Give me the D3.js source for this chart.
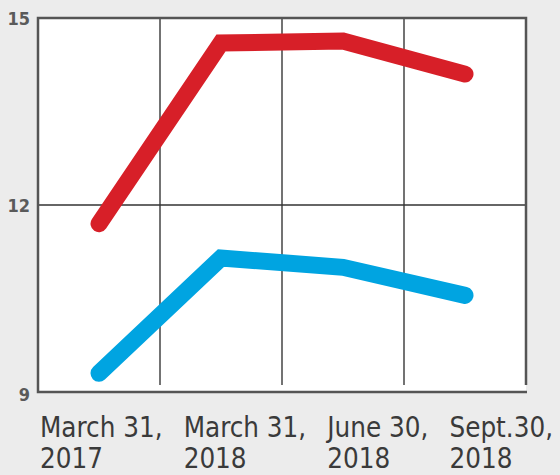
<!DOCTYPE html>
<meta charset="utf-8">
<style>
  body { margin: 0; background: #ececec; }
  svg { display: block; }
  .tick-label { font-family: "DejaVu Sans Condensed", "DejaVu Sans", sans-serif; font-size: 18px; font-weight: bold; fill: #5a5a5a; }
  .cat-label { font-family: "DejaVu Sans Condensed", "DejaVu Sans", sans-serif; font-size: 27.5px; fill: #3a3a3a; }
</style>
<body>
<div id="chart"></div>
<script src="https://d3js.org/d3.v7.min.js"></script>
<script>
// data
const categories = [["March 31,", "2017"], ["March 31,", "2018"], ["June 30,", "2018"], ["Sept.30,", "2018"]];
const redValues = [11.7, 14.6, 14.63, 14.1];
const blueValues = [9.3, 11.15, 11.0, 10.55];
const yTicks = [9, 12, 15];

const width = 560, height = 475;
const margin = {top: 18, right: 34, bottom: 83, left: 38};

const svg = d3.select("#chart").append("svg")
    .attr("width", width)
    .attr("height", height);

const x = d3.scaleBand()
    .domain(d3.range(categories.length))
    .range([margin.left, width - margin.right]);

const y = d3.scaleLinear()
    .domain([9, 15])
    .range([height - margin.bottom, margin.top]);

// plot background
svg.append("rect")
    .attr("x", x.range()[0])
    .attr("y", y(15))
    .attr("width", x.range()[1] - x.range()[0])
    .attr("height", y(9) - y(15))
    .attr("fill", "#fff");

// vertical gridlines at band boundaries
svg.append("g")
    .selectAll("line")
    .data(d3.range(1, categories.length))
    .join("line")
      .attr("x1", d => x(d)).attr("x2", d => x(d))
      .attr("y1", y(15)).attr("y2", y(9) - 7)
      .attr("stroke", "#444")
      .attr("stroke-width", 1.5);

// horizontal gridline(s)
svg.append("g")
    .selectAll("line")
    .data(yTicks.filter(d => d !== 9 && d !== 15))
    .join("line")
      .attr("x1", x.range()[0]).attr("x2", x.range()[1])
      .attr("y1", d => y(d)).attr("y2", d => y(d))
      .attr("stroke", "#333")
      .attr("stroke-width", 1.5);

// frame
svg.append("path")
    .attr("d", `M${x.range()[1]},${y(9) - 7}V${y(15)}H${x.range()[0]}V${y(9)}H${x.range()[1] + 1}`)
    .attr("fill", "none")
    .attr("stroke", "#555")
    .attr("stroke-width", 2.5);

// y tick labels
svg.append("g")
    .selectAll("text")
    .data(yTicks)
    .join("text")
      .attr("class", "tick-label")
      .attr("x", margin.left - 8)
      .attr("y", d => y(d) + (d === 9 ? 3 : 1))
      .attr("dy", "0.35em")
      .attr("text-anchor", "end")
      .text(d => d);

// lines
const line = d3.line()
    .x((d, i) => x(i) + x.bandwidth() / 2)
    .y(d => y(d));

[[redValues, "#d71f28"], [blueValues, "#00a4e1"]].forEach(([vals, color]) => {
  svg.append("path")
      .datum(vals)
      .attr("d", line)
      .attr("fill", "none")
      .attr("stroke", color)
      .attr("stroke-width", 17)
      .attr("stroke-linecap", "round")
      .attr("stroke-linejoin", "miter");
});

// category labels, laid out left to right across the bottom
const labels = svg.append("g")
    .selectAll("text")
    .data(categories)
    .join("text")
      .attr("class", "cat-label");

labels.selectAll("tspan")
    .data(d => d)
    .join("tspan")
      .attr("y", (d, i) => i === 0 ? 437 : 468)
      .text(d => d);

const startX = 40, endX = 553;
const widths = [];
labels.each(function() {
  const first = d3.select(this).select("tspan").node();
  widths.push(first.getComputedTextLength());
});
const gap = (endX - startX - d3.sum(widths)) / (categories.length - 1);
let cursor = startX;
labels.each(function(d, i) {
  d3.select(this).selectAll("tspan").attr("x", cursor);
  cursor += widths[i] + gap;
});
</script>
</body>
